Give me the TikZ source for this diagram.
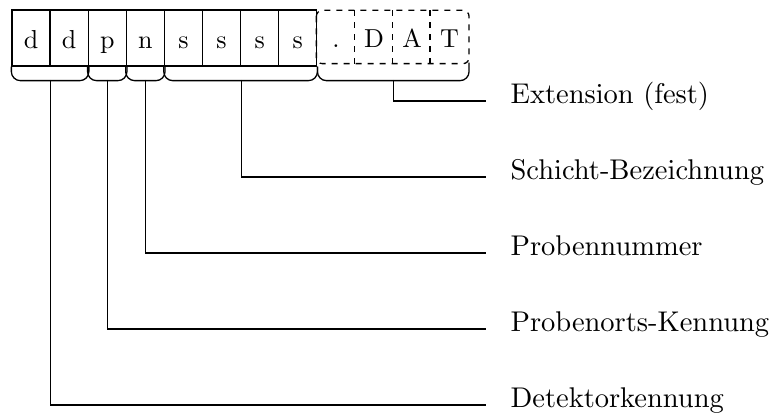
\documentclass[tikz,border=0pt]{standalone}
\font\labfont=cmr10 at 28.5pt
\font\cellfont=cmr10 at 26pt
\begin{document}
\begin{tikzpicture}[x=1pt,y=-1pt,line width=1.3pt,
  cell/.style={draw,minimum width=38.1pt,minimum height=56pt,inner sep=0pt,
    text height=22.5pt,text depth=1.5pt,font=\cellfont},
  dcell/.style={cell,draw=none,minimum width=37.8pt,minimum height=52pt},
  brace/.style={rounded corners=9pt},
  lab/.style={anchor=mid west,inner xsep=24pt,inner ysep=0pt,
    font=\labfont}]
\useasboundingbox (0,0) rectangle (777,419);
% solid cells
\node[cell] (c1) at (31.05,38) {d};
\node[cell] (c2) at (69.15,38) {d};
\node[cell] (c3) at (107.25,38) {p};
\node[cell] (c4) at (145.35,38) {n};
\node[cell] (c5) at (183.45,38) {s};
\node[cell] (c6) at (221.55,38) {s};
\node[cell] (c7) at (259.65,38) {s};
\node[cell] (c8) at (297.75,38) {s};
% dashed cells
\node[dcell] (d1) at (335.9,37) {.};
\node[dcell] (d2) at (374,37) {D};
\node[dcell] (d3) at (412,37) {A};
\node[dcell] (d4) at (449.5,37) {T};
\draw[dashed,dash pattern=on 6pt off 6pt,rounded corners=6pt]
  (d1.north west) rectangle (d4.south east);
\foreach \n in {d2,d3,d4}
  \draw[dashed,dash pattern=on 6pt off 6pt] (\n.north west) -- (\n.south west);
% braces
\draw[brace] (c1.south west) -- ++(0,14) -| (c2.south east);
\draw[brace] (c3.south west) -- ++(0,14) -| (c3.south east);
\draw[brace] (c4.south west) -- ++(0,14) -| (c4.south east);
\draw[brace] (c5.south west) -- ++(0,14) -| (c8.south east);
\draw[brace] (c8.south east) -- ++(0,14) -| ([yshift=1pt]d4.south east);
\coordinate (b1) at (50.6,80);
\coordinate (b2) at (107.8,80);
\coordinate (b3) at (145.8,80);
\coordinate (b4) at (241.5,80);
\coordinate (b5) at (393.5,80);
% labels
\node[lab] (l1) at (486,101) {Extension (fest)};
\node[lab] (l2) at (486,177) {Schicht-Bezeichnung};
\node[lab] (l3) at (486,253) {Probennummer};
\node[lab] (l4) at (486,329) {Probenorts-Kennung};
\node[lab] (l5) at (486,405) {Detektorkennung};
% connectors
\draw (b5) |- (l1.mid west);
\draw (b4) |- (l2.mid west);
\draw (b3) |- (l3.mid west);
\draw (b2) |- (l4.mid west);
\draw (b1) |- (l5.mid west);
\end{tikzpicture}
\end{document}
